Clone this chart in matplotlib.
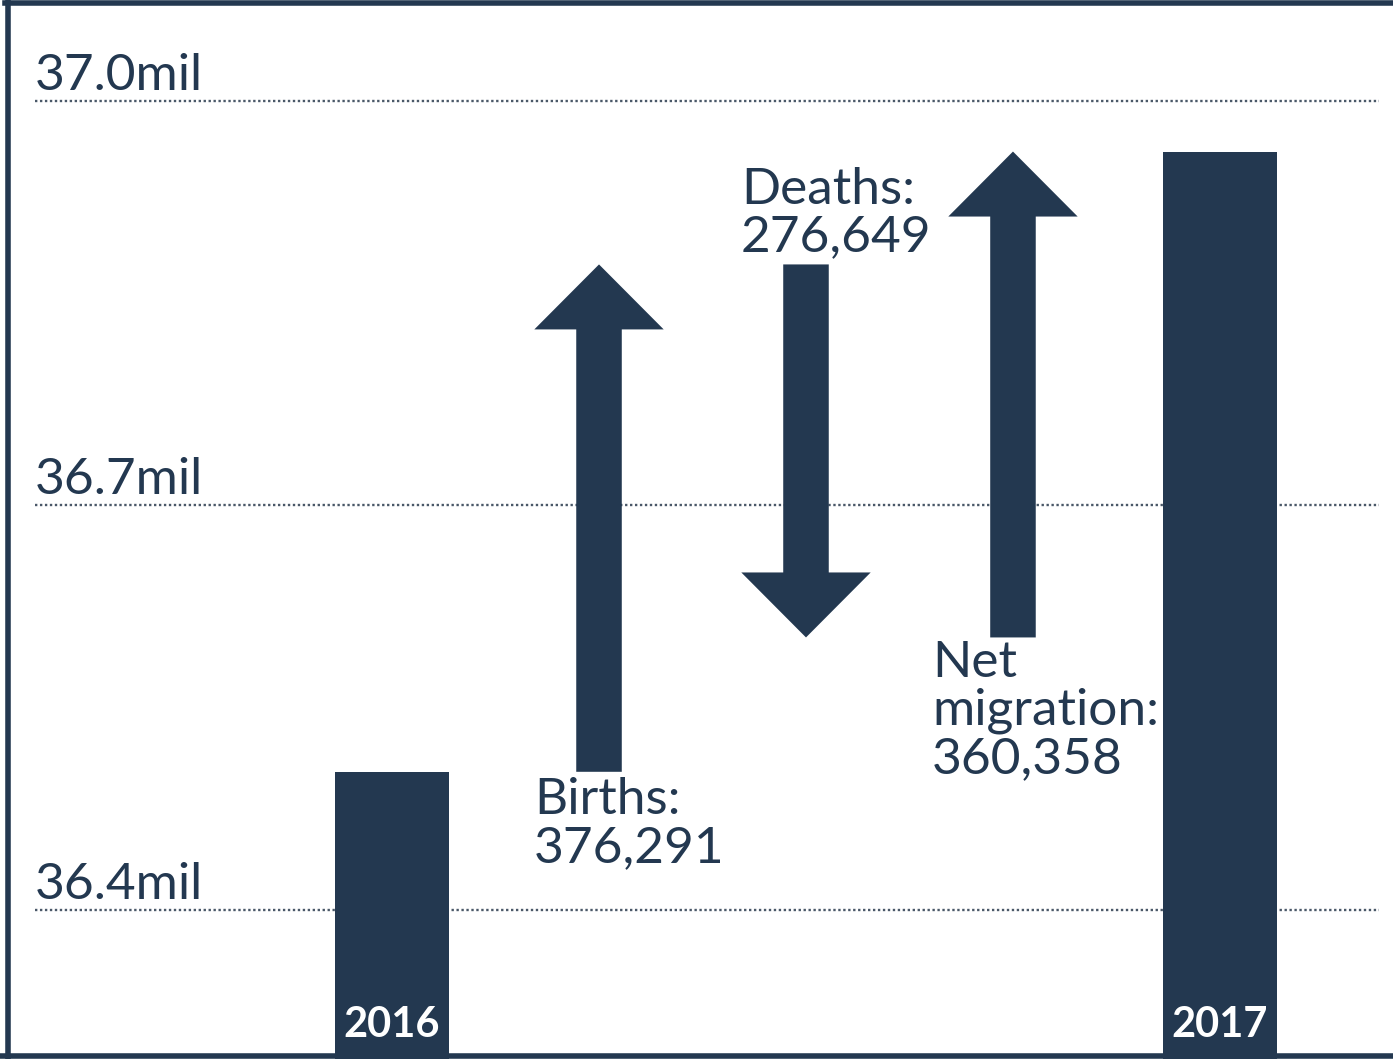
import matplotlib.pyplot as plt
from matplotlib.patches import FancyArrow
from matplotlib.lines import Line2D

# population components, people
pop_2016 = 36502500
births = 376291
deaths = 276649
net_migration = 360358
years = ['2016', '2017']
tick_values = [36400000, 36700000, 37000000]
tick_labels = ['36.4mil', '36.7mil', '37.0mil']

navy = '#233850'
plt.rcParams['font.family'] = ['Lato', 'DejaVu Sans']

pop_2017 = pop_2016 + births - deaths + net_migration

fig = plt.figure(figsize=(13.93, 10.59), dpi=100)
ax = fig.add_axes([0, 0, 1, 1])
ax.set_xlim(-1.894, 4.836)
ax.set_ylim(36289500, 37074900)
ax.axis('off')

# dotted grid lines + labels
for v, lab in zip(tick_values, tick_labels):
    ax.plot([-1.725, 4.77], [v, v], color='#4a5868', lw=1.7,
            linestyle=(0, (1, 1.1)), zorder=1)
    ax.text(-1.725, v + 8500, lab, fontsize=37, color=navy,
            ha='left', va='baseline', zorder=2)

ybot = ax.get_ylim()[0]
bar_x = [0, 4]
bar_tops = [pop_2016, pop_2017]
ax.bar(bar_x, [t - ybot for t in bar_tops], bottom=ybot, width=0.55,
       color=navy, zorder=3)
for x, yr in zip(bar_x, years):
    ax.text(x, ybot + 11000, yr, fontsize=30, fontweight='bold', color='white',
            ha='center', va='bottom', zorder=4)

# arrows
head_len = 48200
starts = [pop_2016, pop_2016 + births, pop_2016 + births - deaths]
changes = [births, -deaths, net_migration]
for i, (s, d) in enumerate(zip(starts, changes)):
    arr = FancyArrow(i + 1, s, 0, d, width=0.22, head_width=0.625,
                     head_length=head_len, length_includes_head=True,
                     color=navy, lw=0, zorder=3)
    ax.add_patch(arr)

# annotations
lab_kw = dict(fontsize=37, color=navy, ha='left', linespacing=1.05, zorder=4)
ax.text(0.685, pop_2016 - 4000, 'Births:\n{:,}'.format(births),
        va='top', **lab_kw)
ax.text(1.685, pop_2016 + births + 3000, 'Deaths:\n{:,}'.format(deaths),
        va='bottom', **lab_kw)
ax.text(2.61, starts[2] - 2000, 'Net\nmigration:\n{:,}'.format(net_migration),
        va='top', **lab_kw)

# frame: top, left, bottom
fig.add_artist(Line2D([0.0035, 1], [0.9975, 0.9975], color=navy, lw=4,
                      transform=fig.transFigure))
fig.add_artist(Line2D([0.0055, 0.0055], [0, 1], color=navy, lw=4,
                      transform=fig.transFigure))
fig.add_artist(Line2D([0, 1], [0.0025, 0.0025], color=navy, lw=4,
                      transform=fig.transFigure))

fig.savefig('out.png', dpi=100)
